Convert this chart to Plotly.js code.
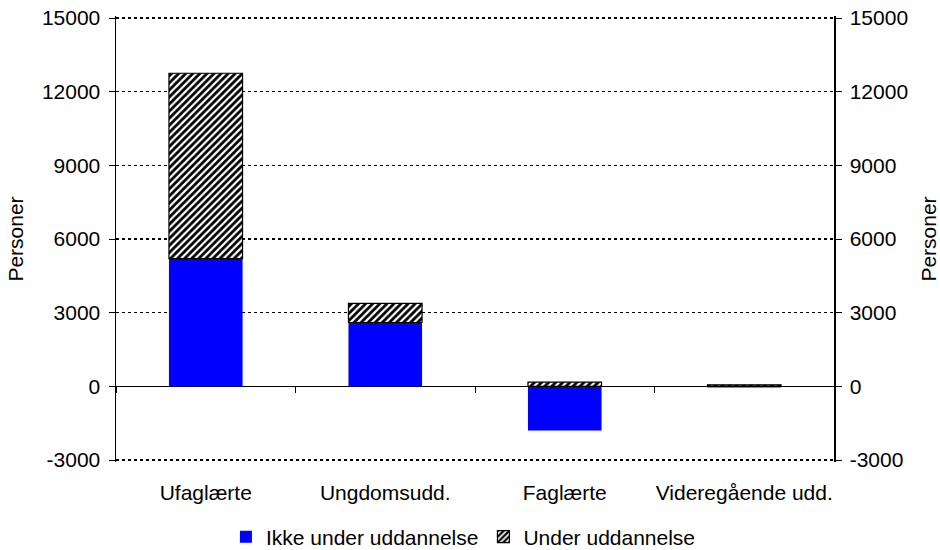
<!DOCTYPE html>
<html>
<head>
<meta charset="utf-8">
<script src="https://cdn.plot.ly/plotly-3.0.1.min.js"></script>
<style>html,body{margin:0;padding:0;background:#fff;}#chart{width:940px;height:550px;}</style>
</head>
<body>
<div id="chart"></div>
<script>
const categories = ["Ufaglærte", "Ungdomsudd.", "Faglærte", "Videregående udd."];
const ikkeUnderUddannelse = [5200, 2600, -1800, -50];
const underUddannelse = [7550, 780, 170, 60];
const seriesNames = ["Ikke under uddannelse", "Under uddannelse"];
const yTicks = [-3000, 0, 3000, 6000, 9000, 12000, 15000];
const yRange = [-3081.5, 15081.5];

const font = {family: "Liberation Sans, Arial, sans-serif", size: 21, color: "#000"};

const data = [
  {
    type: "bar", name: seriesNames[0], x: categories, y: ikkeUnderUddannelse,
    marker: {color: "#0000FF", line: {width: 0}}, width: 0.41, hoverinfo: "skip"
  },
  {
    type: "bar", name: seriesNames[1], x: categories, y: underUddannelse,
    marker: {color: "#ffffff", line: {color: "#000", width: 1.2},
             pattern: {shape: "/", fgcolor: "#000", bgcolor: "#fff", size: 5, solidity: 0.55}},
    width: 0.41, hoverinfo: "skip"
  },
  {
    type: "scatter", mode: "none", x: categories, y: categories.map(() => null),
    xaxis: "x2", yaxis: "y2", showlegend: false, hoverinfo: "skip"
  }
];

const yCommon = {
  range: yRange, tickvals: yTicks, ticktext: yTicks.map(String),
  ticks: "outside", ticklen: 6, tickcolor: "#000", tickwidth: 1,
  showline: true, linecolor: "#000", linewidth: 1.5,
  tickfont: font, fixedrange: true, automargin: false, ticklabelstandoff: 4
};

const layout = {
  width: 940, height: 550,
  margin: {l: 116, r: 106, t: 16, b: 88, autoexpand: false},
  paper_bgcolor: "#fff", plot_bgcolor: "#fff",
  font: font,
  barmode: "relative",
  showlegend: true,
  legend: {orientation: "h", x: 0.493, xanchor: "center", xref: "container",
           y: 13 / 550, yanchor: "middle", yref: "container",
           font: font, itemwidth: 30, tracegroupgap: 0},
  xaxis: {
    type: "category", categoryarray: categories, range: [-0.5, 3.5],
    showline: false, showgrid: false, zeroline: false, ticks: "",
    tickfont: font, ticklabelstandoff: 16, automargin: false
  },
  xaxis2: {
    type: "category", categoryarray: categories, range: [-0.5, 3.5],
    overlaying: "x", anchor: "free", position: (0 - yRange[0]) / (yRange[1] - yRange[0]),
    showline: false, showgrid: false, zeroline: false,
    ticks: "outside", tickson: "boundaries", ticklen: 6, tickcolor: "#000",
    showticklabels: false, automargin: false
  },
  yaxis: Object.assign({}, yCommon, {
    side: "left",
    showgrid: true, gridcolor: "#000", gridwidth: 1.5, griddash: "3px,3px",
    zeroline: true, zerolinecolor: "#000", zerolinewidth: 1.5,
    title: {text: "Personer", font: font, standoff: 12}
  }),
  yaxis2: Object.assign({}, yCommon, {
    side: "right", overlaying: "y", anchor: "x2",
    showgrid: false, zeroline: false,
    title: {text: "Personer", font: font, standoff: 14}
  })
};

Plotly.newPlot("chart", data, layout, {displayModeBar: false, staticPlot: true});
</script>
</body>
</html>
